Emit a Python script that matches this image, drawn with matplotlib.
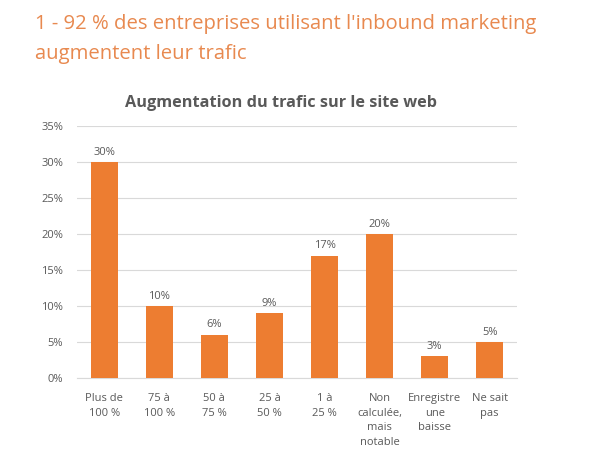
import matplotlib.pyplot as plt
import numpy as np

# Données
categories = ["Plus de\n100 %", "75 à\n100 %", "50 à\n75 %", "25 à\n50 %",
              "1 à\n25 %", "Non\ncalculée,\nmais\nnotable", "Enregistre\nune\nbaisse",
              "Ne sait\npas"]
valeurs = [30, 10, 6, 9, 17, 20, 3, 5]
yticks = [0, 5, 10, 15, 20, 25, 30, 35]

orange = "#ED7D31"
gris = "#595959"

plt.rcParams['font.family'] = ['Open Sans', 'DejaVu Sans']

fig = plt.figure(figsize=(6, 4.61), dpi=100)
ax = fig.add_axes([0.128, 0.18, 0.734, 0.547])

x = np.arange(len(categories))
ax.bar(x, valeurs, width=0.49, color=orange, zorder=3)

for xi, v in zip(x, valeurs):
    ax.text(xi, v + 0.6, f"{v}%", ha='center', va='bottom', fontsize=8, color=gris)

ax.set_xlim(-0.5, len(categories) - 0.5)
ax.set_ylim(0, 35)
ax.set_yticks(yticks)
ax.set_yticklabels([f"{t}%" for t in yticks], fontsize=8, color=gris)
ax.set_xticks(x)
ax.set_xticklabels(categories, fontsize=8, color=gris, linespacing=1.45)
ax.tick_params(axis='x', length=0, pad=11)
ax.tick_params(axis='y', length=0, pad=10)
ax.grid(axis='y', color='#D9D9D9', linewidth=0.8, zorder=0)
for s in ['top', 'right', 'left']:
    ax.spines[s].set_visible(False)
ax.spines['bottom'].set_color('#D9D9D9')

fig.text(0.468, 0.777, "Augmentation du trafic sur le site web", ha='center', va='center',
         fontsize=11.7, fontweight='bold', color=gris)

fig.text(0.058, 0.948, "1 - 92 % des entreprises utilisant l'inbound marketing", ha='left',
         va='center', fontsize=14.6, color="#E8894F")
fig.text(0.058, 0.883, "augmentent leur trafic", ha='left', va='center',
         fontsize=14.6, color="#E8894F")

plt.savefig("out.png", dpi=100, facecolor='white')
